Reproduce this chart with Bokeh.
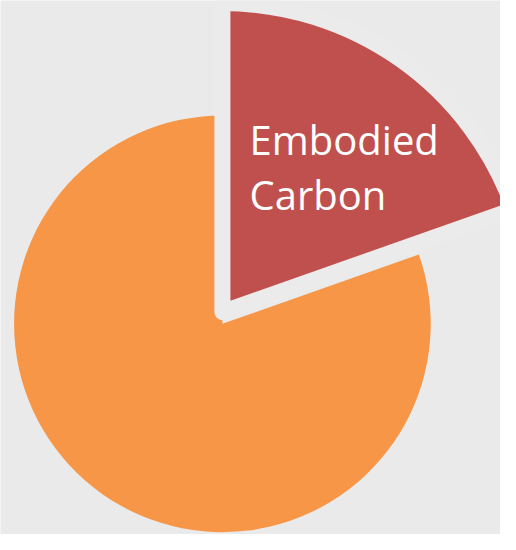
import math
from bokeh.plotting import figure
from bokeh.models import Range1d, ColumnDataSource
from bokeh.core.properties import value
from bokeh.embed import file_html
from bokeh.resources import INLINE

# Data
categories = ["Embodied Carbon", "Other Carbon"]
shares = [19.6, 80.4]
label_lines = ["Embodied", "Carbon"]
colors = ["#c0504d", "#f79646"]

BG = "#eaeaea"

total = sum(shares)
emb_deg = shares[0] / total * 360.0
top = math.pi / 2
split = top - math.radians(emb_deg)

p = figure(width=500, height=534, output_backend="svg", toolbar_location=None,
           x_range=Range1d(0, 516), y_range=Range1d(0, 550),
           min_border=0, background_fill_color=BG, border_fill_color=BG)
p.axis.visible = False
p.grid.visible = False
p.outline_line_color = None

# main (orange) slice
p.wedge(x=229, y=217, radius=215, start_angle=top, end_angle=split + 2 * math.pi,
        direction="anticlock", fill_color=colors[1], line_color=None)

# exploded / enlarged slice with a background-coloured stroke
p.wedge(x=229, y=229, radius=319, start_angle=split, end_angle=top,
        direction="anticlock", fill_color=colors[0], line_color="#ebebeb",
        line_width=16, line_join="round")

src = ColumnDataSource(dict(x=[257, 257], y=[550 - 143, 550 - 200], t=label_lines))
p.text(x="x", y="y", text="t", source=src, text_color="white",
       text_font=value("Open Sans"), text_font_size="40px",
       text_align="left", text_baseline="alphabetic")

open("out.html", "w").write(file_html(p, INLINE))
